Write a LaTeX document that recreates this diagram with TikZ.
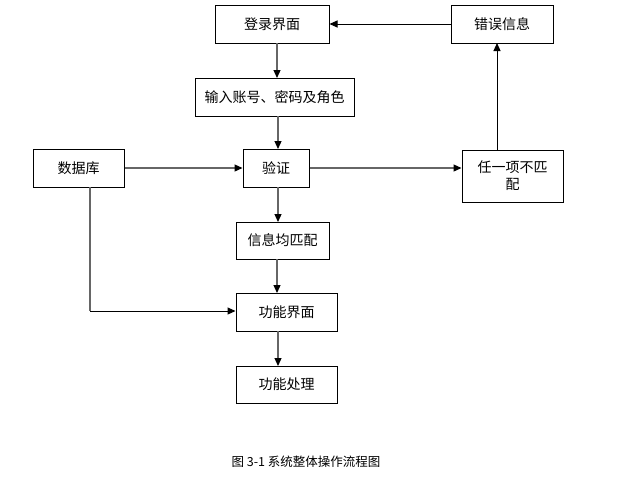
\documentclass[tikz,border=0pt]{standalone}
\usepackage{fontspec}
\setmainfont{Noto Sans CJK SC}
\usetikzlibrary{arrows.meta}
\begin{document}
\begin{tikzpicture}[x=1pt,y=-1pt,
  box/.style={draw=black,line width=1pt,inner sep=0pt,font=\fontsize{14}{17}\selectfont,align=center},
  conn/.style={line width=1.2pt,draw=gray!80!black,-{Triangle[length=8pt,width=7pt,black]}},
  connb/.style={line width=1pt,draw=black,-{Triangle[length=8pt,width=7pt,black]}}]
\useasboundingbox[fill=white] (0,0) rectangle (639,483);
\node[box,minimum width=114pt,minimum height=38pt] (login) at (272,24) {登录界面};
\node[box,minimum width=102pt,minimum height=38pt] (err) at (502,24) {错误信息};
\node[box,minimum width=159pt,minimum height=38pt] (input) at (274.5,97) {输入账号、密码及角色};
\node[box,minimum width=91pt,minimum height=38pt] (db) at (78.5,168) {数据库};
\node[box,minimum width=66pt,minimum height=38pt] (ver) at (276,168) {验证};
\node[box,minimum width=101pt,minimum height=52pt] (nomatch) at (512.5,176) {任一项不匹\\配};
\node[box,minimum width=93pt,minimum height=37pt] (match) at (282.5,240.5) {信息均匹配};
\node[box,minimum width=101pt,minimum height=38pt] (func) at (286.5,312) {功能界面};
\node[box,minimum width=101pt,minimum height=37pt] (proc) at (286.5,384.5) {功能处理};
\node[font=\fontsize{12.5}{15}\selectfont] (cap) at (306,462) {图 3-1 系统整体操作流程图};
\coordinate (c1) at (90,311);
\draw[conn] (277,43) -- (277,78);
\draw[conn] (278,116) -- (278,149);
\draw[conn] (db.east) -- (ver.west);
\draw[conn] (ver.east) -- (nomatch.west |- ver.east);
\draw[connb] (497,150) -- (497,43);
\draw[connb] (err.west) -- (login.east);
\draw[conn] (278,187) -- (278,222);
\draw[conn] (277,259) -- (277,293);
\draw[conn] (278,331) -- (278,366);
\draw[line width=1.2pt,draw=gray!80!black] (90,187) -- (c1);
\draw[connb] (c1) -- (func.west |- c1);
\end{tikzpicture}
\end{document}
